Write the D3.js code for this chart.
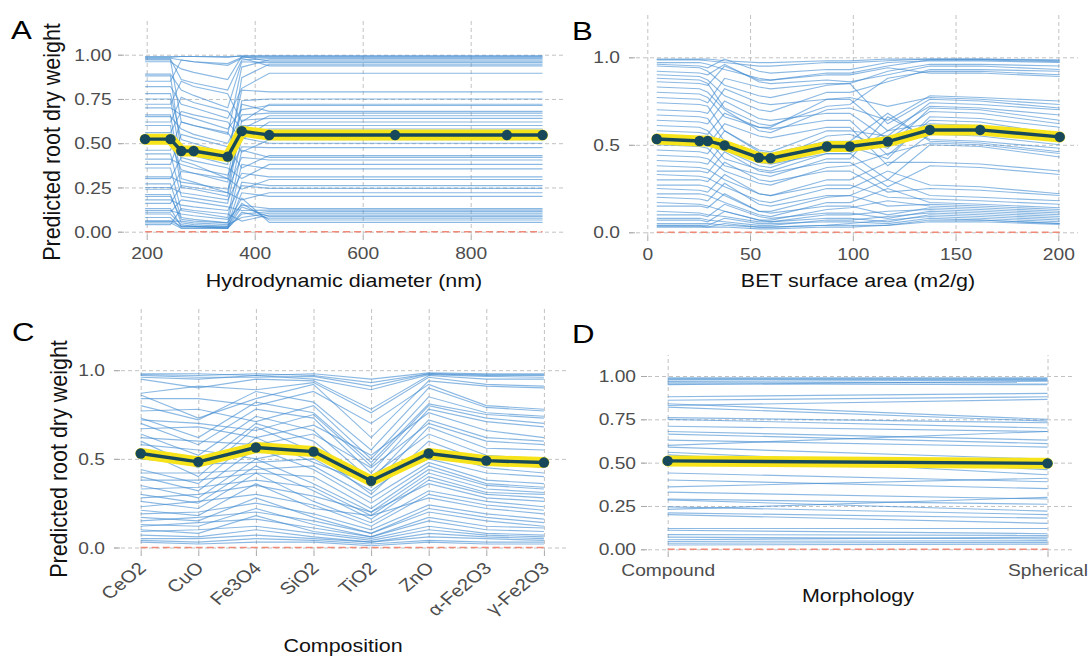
<!DOCTYPE html>
<html><head><meta charset="utf-8">
<script src="https://cdn.jsdelivr.net/npm/d3@7"></script>
<style>
html,body{margin:0;padding:0;background:#fff;}
svg{display:block;font-family:"Liberation Sans",Arial,Helvetica,sans-serif;}
</style></head><body>
<svg id="chart" width="1090" height="662"></svg>
<script>
// ---------- Panel A: hydrodynamic diameter ----------
const hdX = [197, 244, 264, 287, 350, 376, 427, 660, 867, 933];
const hdTicks = [200, 400, 600, 800];
const hdPD = [0.523, 0.523, 0.456, 0.456, 0.424, 0.568, 0.546, 0.546, 0.546, 0.546];
const hdICE = [
  [0.99,0.99,0.99,0.99,0.985,0.995,0.995,0.995,0.995,0.995],
  [0.985,0.985,0.99,0.99,0.99,0.99,0.99,0.99,0.99,0.99],
  [0.98,0.98,0.97,0.96,0.95,0.985,0.985,0.985,0.985,0.985],
  [0.975,0.975,0.86,0.84,0.80,0.97,0.978,0.978,0.978,0.978],
  [0.97,0.97,0.62,0.60,0.55,0.93,0.97,0.97,0.97,0.97],
  [0.96,0.96,0.92,0.90,0.86,0.99,0.963,0.963,0.963,0.963],
  [0.89,0.89,0.80,0.77,0.70,0.96,0.955,0.955,0.955,0.955],
  [0.88,0.88,0.45,0.43,0.38,0.87,0.946,0.946,0.946,0.946],
  [0.85,0.85,0.97,0.96,0.94,0.98,0.937,0.937,0.937,0.937],
  [0.82,0.82,0.72,0.70,0.64,0.81,0.895,0.895,0.895,0.895],
  [0.78,0.78,0.52,0.50,0.44,0.80,0.79,0.79,0.79,0.79],
  [0.75,0.75,0.40,0.38,0.30,0.74,0.75,0.75,0.75,0.75],
  [0.72,0.72,0.85,0.82,0.78,0.62,0.72,0.72,0.72,0.72],
  [0.70,0.70,0.66,0.64,0.58,0.69,0.713,0.713,0.713,0.713],
  [0.66,0.66,0.30,0.28,0.22,0.72,0.68,0.68,0.68,0.68],
  [0.65,0.65,0.58,0.55,0.50,0.66,0.67,0.67,0.67,0.67],
  [0.62,0.62,0.76,0.73,0.68,0.58,0.655,0.655,0.655,0.655],
  [0.60,0.60,0.25,0.24,0.20,0.63,0.64,0.64,0.64,0.64],
  [0.56,0.56,0.68,0.66,0.62,0.52,0.62,0.62,0.62,0.62],
  [0.54,0.54,0.48,0.46,0.40,0.60,0.60,0.60,0.60,0.60],
  [0.50,0.50,0.35,0.33,0.28,0.57,0.58,0.58,0.58,0.58],
  [0.46,0.46,0.62,0.60,0.56,0.45,0.52,0.52,0.52,0.52],
  [0.44,0.44,0.20,0.19,0.16,0.53,0.50,0.50,0.50,0.50],
  [0.41,0.41,0.38,0.36,0.32,0.48,0.475,0.475,0.475,0.475],
  [0.38,0.38,0.55,0.53,0.48,0.36,0.43,0.43,0.43,0.43],
  [0.36,0.36,0.12,0.11,0.08,0.46,0.42,0.42,0.42,0.42],
  [0.31,0.31,0.28,0.27,0.24,0.42,0.405,0.405,0.405,0.405],
  [0.30,0.30,0.42,0.40,0.36,0.30,0.38,0.38,0.38,0.38],
  [0.27,0.27,0.08,0.07,0.05,0.38,0.355,0.355,0.355,0.355],
  [0.25,0.25,0.22,0.21,0.18,0.33,0.31,0.31,0.31,0.31],
  [0.24,0.24,0.34,0.33,0.30,0.24,0.295,0.295,0.295,0.295],
  [0.21,0.21,0.05,0.04,0.03,0.28,0.26,0.26,0.26,0.26],
  [0.18,0.18,0.15,0.14,0.12,0.26,0.245,0.245,0.245,0.245],
  [0.16,0.16,0.26,0.25,0.22,0.18,0.22,0.22,0.22,0.22],
  [0.13,0.13,0.03,0.03,0.02,0.22,0.20,0.20,0.20,0.20],
  [0.12,0.12,0.10,0.09,0.07,0.15,0.13,0.13,0.13,0.13],
  [0.11,0.11,0.18,0.17,0.14,0.12,0.122,0.122,0.122,0.122],
  [0.08,0.08,0.02,0.02,0.02,0.10,0.113,0.113,0.113,0.113],
  [0.06,0.06,0.06,0.05,0.04,0.08,0.104,0.104,0.104,0.104],
  [0.04,0.04,0.13,0.12,0.10,0.06,0.094,0.094,0.094,0.094],
  [0.06,0.06,0.03,0.03,0.02,0.14,0.085,0.085,0.085,0.085],
  [0.05,0.05,0.02,0.02,0.02,0.11,0.076,0.076,0.076,0.076],
  [0.10,0.10,0.04,0.03,0.03,0.16,0.066,0.066,0.066,0.066],
  [0.20,0.20,0.07,0.06,0.05,0.19,0.053,0.053,0.053,0.053]
];

// ---------- Panel B: BET surface area ----------
const betX = [4.6, 25.4, 29.4, 37.6, 54.3, 60, 87.4, 98.6, 117, 137.5, 162, 200.7];
const betTicks = [0, 50, 100, 150, 200];
const betPD = [0.533, 0.522, 0.522, 0.497, 0.427, 0.423, 0.49, 0.49, 0.518, 0.585, 0.585, 0.545];
const betICE = [
  [.99,.99,.99,.98,.97,.97,.98,.98,.99,.99,.99,.985],
  [.985,.985,.98,.97,.95,.95,.97,.97,.98,.99,.99,.98],
  [.97,.97,.96,.93,.88,.87,.91,.91,.95,.985,.985,.975],
  [.96,.95,.94,.99,.92,.91,.93,.93,.97,.98,.98,.97],
  [.95,.94,.92,.84,.78,.77,.84,.85,.92,.96,.96,.95],
  [.92,.91,.90,.96,.86,.85,.87,.86,.90,.95,.95,.93],
  [.90,.89,.87,.78,.70,.69,.80,.80,.86,.93,.93,.92],
  [.88,.87,.85,.71,.62,.61,.72,.73,.88,.92,.92,.90],
  [.86,.85,.84,.95,.87,.87,.90,.90,.94,.91,.91,.89],
  [.83,.82,.80,.70,.58,.57,.70,.71,.64,.78,.77,.75],
  [.80,.79,.77,.66,.60,.60,.76,.77,.72,.77,.76,.73],
  [.77,.76,.74,.88,.83,.82,.85,.85,.62,.76,.75,.71],
  [.74,.73,.72,.58,.47,.46,.58,.58,.55,.74,.73,.70],
  [.70,.69,.68,.82,.74,.73,.76,.76,.58,.72,.71,.67],
  [.67,.66,.65,.52,.42,.41,.55,.56,.48,.71,.70,.64],
  [.64,.63,.62,.75,.65,.64,.68,.68,.53,.69,.68,.62],
  [.61,.60,.58,.47,.38,.37,.48,.49,.42,.66,.65,.60],
  [.58,.57,.56,.68,.60,.59,.64,.64,.44,.64,.63,.56],
  [.55,.54,.53,.42,.36,.35,.45,.45,.58,.62,.61,.53],
  [.52,.51,.50,.62,.55,.54,.60,.60,.38,.56,.55,.50],
  [.50,.49,.48,.38,.33,.32,.42,.42,.66,.53,.52,.48],
  [.47,.46,.45,.58,.46,.45,.52,.52,.68,.52,.51,.46],
  [.44,.43,.42,.35,.28,.27,.37,.38,.45,.51,.50,.45],
  [.41,.40,.39,.52,.40,.39,.45,.45,.30,.50,.49,.43],
  [.38,.37,.36,.30,.22,.21,.30,.30,.40,.40,.39,.35],
  [.35,.35,.34,.46,.35,.34,.40,.40,.26,.38,.37,.33],
  [.33,.32,.31,.26,.18,.17,.25,.25,.35,.27,.26,.22],
  [.30,.30,.29,.40,.30,.29,.35,.35,.23,.25,.24,.21],
  [.27,.27,.26,.21,.12,.12,.20,.21,.30,.21,.20,.18],
  [.25,.24,.23,.33,.22,.21,.27,.27,.20,.19,.18,.16],
  [.22,.22,.21,.17,.10,.09,.17,.17,.25,.17,.16,.14],
  [.20,.19,.18,.28,.16,.15,.21,.21,.15,.16,.15,.13],
  [.17,.16,.15,.12,.07,.07,.13,.14,.18,.15,.14,.12],
  [.15,.15,.14,.22,.12,.11,.15,.15,.10,.14,.13,.11],
  [.12,.11,.10,.09,.06,.06,.10,.10,.12,.13,.12,.10],
  [.10,.10,.09,.16,.09,.08,.11,.11,.08,.12,.11,.09],
  [.08,.08,.07,.06,.04,.04,.07,.07,.09,.11,.10,.08],
  [.07,.07,.06,.12,.07,.06,.08,.08,.06,.10,.09,.07],
  [.05,.05,.05,.04,.03,.03,.04,.05,.07,.09,.08,.06],
  [.04,.04,.04,.08,.05,.05,.06,.06,.05,.08,.07,.05],
  [.035,.035,.03,.03,.02,.02,.03,.03,.04,.07,.07,.05],
  [.03,.03,.03,.05,.03,.03,.04,.04,.04,.06,.06,.045]
];

// ---------- Panel C: composition ----------
const compCats = ["CeO2", "CuO", "Fe3O4", "SiO2", "TiO2", "ZnO", "α-Fe2O3", "γ-Fe2O3"];
const compPD = [0.53, 0.483, 0.564, 0.541, 0.376, 0.53, 0.49, 0.479];
const compICE = [
  [.98,.98,.97,.98,.95,.985,.98,.98],
  [.975,.97,.98,.97,.93,.98,.975,.975],
  [.97,.96,.96,.965,.91,.98,.97,.97],
  [.96,.95,.97,.95,.89,.975,.965,.96],
  [.95,.90,.95,.94,.78,.97,.95,.95],
  [.87,.91,.89,.93,.76,.96,.92,.91],
  [.86,.73,.84,.92,.62,.94,.91,.90],
  [.84,.84,.80,.88,.70,.92,.80,.78],
  [.80,.72,.88,.82,.55,.90,.79,.77],
  [.77,.78,.71,.80,.50,.85,.76,.74],
  [.73,.62,.82,.76,.48,.81,.75,.73],
  [.72,.70,.66,.75,.46,.80,.73,.70],
  [.70,.58,.78,.73,.42,.78,.71,.68],
  [.67,.68,.62,.69,.52,.76,.66,.62],
  [.64,.52,.74,.66,.38,.72,.62,.60],
  [.62,.60,.58,.64,.45,.70,.60,.58],
  [.60,.45,.70,.60,.34,.68,.56,.55],
  [.58,.55,.50,.56,.40,.64,.52,.50],
  [.55,.40,.68,.54,.30,.60,.48,.45],
  [.50,.47,.48,.50,.32,.55,.45,.42],
  [.44,.36,.62,.48,.36,.50,.42,.40],
  [.42,.42,.44,.46,.28,.48,.38,.36],
  [.40,.32,.56,.44,.25,.46,.36,.34],
  [.38,.38,.42,.40,.22,.44,.35,.33],
  [.35,.28,.50,.36,.20,.42,.33,.31],
  [.33,.34,.38,.34,.18,.40,.31,.30],
  [.30,.25,.46,.32,.16,.38,.30,.28],
  [.28,.30,.35,.29,.20,.36,.28,.26],
  [.26,.22,.42,.26,.14,.32,.26,.23],
  [.23,.26,.30,.24,.12,.30,.24,.21],
  [.21,.18,.36,.22,.18,.28,.22,.19],
  [.19,.20,.25,.19,.10,.24,.19,.16],
  [.17,.15,.28,.17,.08,.22,.17,.14],
  [.15,.17,.20,.15,.08,.20,.15,.12],
  [.13,.12,.22,.13,.06,.17,.12,.11],
  [.12,.14,.16,.11,.06,.15,.10,.09],
  [.10,.08,.18,.09,.05,.12,.08,.07],
  [.09,.10,.12,.08,.04,.10,.07,.06],
  [.07,.06,.10,.06,.03,.08,.06,.05],
  [.05,.05,.07,.05,.03,.06,.05,.04],
  [.04,.03,.05,.04,.02,.04,.03,.03],
  [.03,.02,.03,.03,.01,.03,.02,.02]
];

// ---------- Panel D: morphology ----------
const morphCats = ["Compound", "Spherical"];
const morphPD = [0.51, 0.496];
const morphICE = [
  [.99,.99],[.985,.985],[.98,.98],[.97,.975],[.965,.96],[.955,.95],[.95,.97],
  [.88,.90],[.86,.88],[.84,.75],[.83,.865],[.82,.74],[.76,.73],[.75,.70],
  [.71,.68],[.68,.63],[.665,.61],[.63,.59],[.60,.68],[.59,.52],[.56,.46],
  [.545,.43],[.44,.39],[.40,.35],[.36,.41],[.33,.29],[.29,.26],[.285,.22],
  [.245,.20],[.23,.30],[.21,.18],[.20,.15],[.12,.12],[.11,.09],[.085,.08],
  [.07,.06],[.055,.07],[.045,.05],[.035,.04],[.025,.03]
];

// ---------- drawing ----------
const svg = d3.select("#chart");
const ICE_COLOR = "#3f8bd0", PD_YELLOW = "#f7e31a", PD_DARK = "#17495b";
const GRID = "#c2c2c2", TICK = "#a8a8a8", ZERO = "#f08a78", TICK_TXT = "#4d4d4d";
const TICK_SX = 1.2, TITLE_SX = 1.16;

function label(x, y, str, o) {
  const tr = `translate(${x},${y}) scale(${o.sx},1)` + (o.rot ? ` rotate(${o.rot})` : "");
  svg.append("text")
    .attr("transform", tr)
    .attr("text-anchor", o.anchor || "middle")
    .attr("dy", o.dy == null ? "0.35em" : o.dy)
    .attr("fill", o.color || "#111")
    .style("font-size", o.size + "px")
    .text(str);
}

function drawPanel(p) {
  const g = svg.append("g");

  // horizontal grid + y tick labels
  const ya = g.append("g").attr("transform", `translate(${p.left},0)`)
    .call(d3.axisLeft(p.y).tickValues(p.yTicks).tickFormat(d3.format(p.yFmt))
      .tickSize(-(p.right - p.left)).tickPadding((p.left - p.yLabelRight) / TICK_SX));
  ya.attr("font-family", null).attr("font-size", null);
  ya.select(".domain").remove();
  ya.selectAll("line").attr("stroke", GRID).attr("stroke-dasharray", "4,3");
  ya.selectAll("text").attr("fill", TICK_TXT).style("font-size", "16px")
    .attr("dy", "0.35em").attr("transform", `scale(${TICK_SX},1)`);

  // vertical grid + x tick labels
  const xa = g.append("g").attr("transform", `translate(0,${p.bottom})`)
    .call(d3.axisBottom(p.x).tickValues(p.xTicks).tickSize(-(p.bottom - p.top)));
  xa.attr("font-family", null).attr("font-size", null);
  xa.select(".domain").remove();
  xa.selectAll("line").attr("stroke", GRID).attr("stroke-dasharray", "4,3");
  const xt = xa.selectAll("text").attr("fill", TICK_TXT).style("font-size", "16px");
  if (p.rotateLabels) {
    xt.style("font-size", "17px").attr("x", null).attr("y", null).attr("dy", "0.35em").attr("text-anchor", "end")
      .attr("transform", `translate(1,${p.xLabelY - p.bottom}) scale(${TICK_SX},1) rotate(-45)`);
  } else {
    xt.attr("y", null).attr("dy", "0.35em")
      .attr("transform", `translate(0,${p.xLabelY - p.bottom}) scale(${TICK_SX},1)`);
  }

  // solid tick marks
  const yk = g.append("g").attr("transform", `translate(${p.left + 6},0)`)
    .call(d3.axisLeft(p.y).tickValues(p.yTicks).tickSize(6).tickFormat(""));
  yk.select(".domain").remove();
  yk.selectAll("line").attr("stroke", TICK);
  const xk = g.append("g").attr("transform", `translate(0,${p.bottom})`)
    .call(d3.axisBottom(p.x).tickValues(p.xTicks).tickSize(5).tickFormat(""));
  xk.select(".domain").remove();
  xk.selectAll("line").attr("stroke", TICK);

  // individual curves
  const line = d3.line().x((d, i) => p.x(p.xs[i])).y(d => p.y(d));
  g.append("g").selectAll("path").data(p.ice).join("path")
    .attr("d", line).attr("fill", "none")
    .attr("stroke", ICE_COLOR).attr("stroke-width", 1.15).attr("stroke-opacity", 0.6);

  // zero reference
  g.append("line")
    .attr("x1", p.x(p.xs[0])).attr("x2", p.x(p.xs[p.xs.length - 1]))
    .attr("y1", p.y(0)).attr("y2", p.y(0))
    .attr("stroke", ZERO).attr("stroke-width", 1.6).attr("stroke-dasharray", "7,4");

  // average curve
  g.append("path").datum(p.pd).attr("d", line).attr("fill", "none")
    .attr("stroke", PD_YELLOW).attr("stroke-width", 11).attr("stroke-linejoin", "round").attr("stroke-linecap", "round");
  g.append("path").datum(p.pd).attr("d", line).attr("fill", "none")
    .attr("stroke", PD_DARK).attr("stroke-width", 3.4).attr("stroke-linejoin", "round");
  g.append("g").selectAll("circle").data(p.pd).join("circle")
    .attr("cx", (d, i) => p.x(p.xs[i])).attr("cy", d => p.y(d)).attr("r", 5.2)
    .attr("fill", PD_DARK);

  // titles
  label(p.titleX, p.titleY, p.title, { size: 18.5, sx: TITLE_SX });
  if (p.yTitle) label(p.yTitleX, p.yTitleY, p.yTitle, { size: 21.5, sx: 1.08, rot: -90 });
  label(p.letterX, p.letterY, p.letter, { size: 26, sx: 1.2, anchor: "start", dy: 0, color: "#000" });
}

const yTitle = "Predicted root dry weight";

drawPanel({
  letter: "A", letterX: 11, letterY: 39,
  left: 118, right: 564, top: 21, bottom: 235,
  x: d3.scaleLinear().domain([200, 800]).range([146.7, 470.7]),
  y: d3.scaleLinear().domain([0, 1]).range([231.7, 54.7]),
  xs: hdX, xTicks: hdTicks, ice: hdICE, pd: hdPD,
  yTicks: [0, 0.25, 0.5, 0.75, 1], yFmt: ".2f", yLabelRight: 111.7,
  xLabelY: 253, title: "Hydrodynamic diameter (nm)", titleX: 344, titleY: 281,
  yTitle: yTitle, yTitleX: 52, yTitleY: 142
});

drawPanel({
  letter: "B", letterX: 572, letterY: 40,
  left: 629, right: 1078, top: 13, bottom: 236,
  x: d3.scaleLinear().domain([0, 200]).range([647.3, 1058.3]),
  y: d3.scaleLinear().domain([0, 1]).range([232.3, 57.3]),
  xs: betX, xTicks: betTicks, ice: betICE, pd: betPD,
  yTicks: [0, 0.5, 1], yFmt: ".1f", yLabelRight: 620,
  xLabelY: 254, title: "BET surface area (m2/g)", titleX: 858, titleY: 281
});

drawPanel({
  letter: "C", letterX: 12, letterY: 341,
  left: 114, right: 566, top: 306, bottom: 551,
  x: d3.scalePoint().domain(compCats).range([140.7, 543.9]),
  y: d3.scaleLinear().domain([0, 1]).range([547.5, 370.2]),
  xs: compCats, xTicks: compCats, ice: compICE, pd: compPD,
  yTicks: [0, 0.5, 1], yFmt: ".1f", yLabelRight: 105,
  xLabelY: 565, rotateLabels: true,
  title: "Composition", titleX: 343, titleY: 646,
  yTitle: yTitle, yTitleX: 59, yTitleY: 459
});

drawPanel({
  letter: "D", letterX: 572, letterY: 343,
  left: 641, right: 1075, top: 355, bottom: 552,
  x: d3.scalePoint().domain(morphCats).range([667.7, 1047.5]),
  y: d3.scaleLinear().domain([0, 1]).range([549.3, 376]),
  xs: morphCats, xTicks: morphCats, ice: morphICE, pd: morphPD,
  yTicks: [0, 0.25, 0.5, 0.75, 1], yFmt: ".2f", yLabelRight: 636,
  xLabelY: 570, title: "Morphology", titleX: 858, titleY: 596
});
</script>
</body></html>
